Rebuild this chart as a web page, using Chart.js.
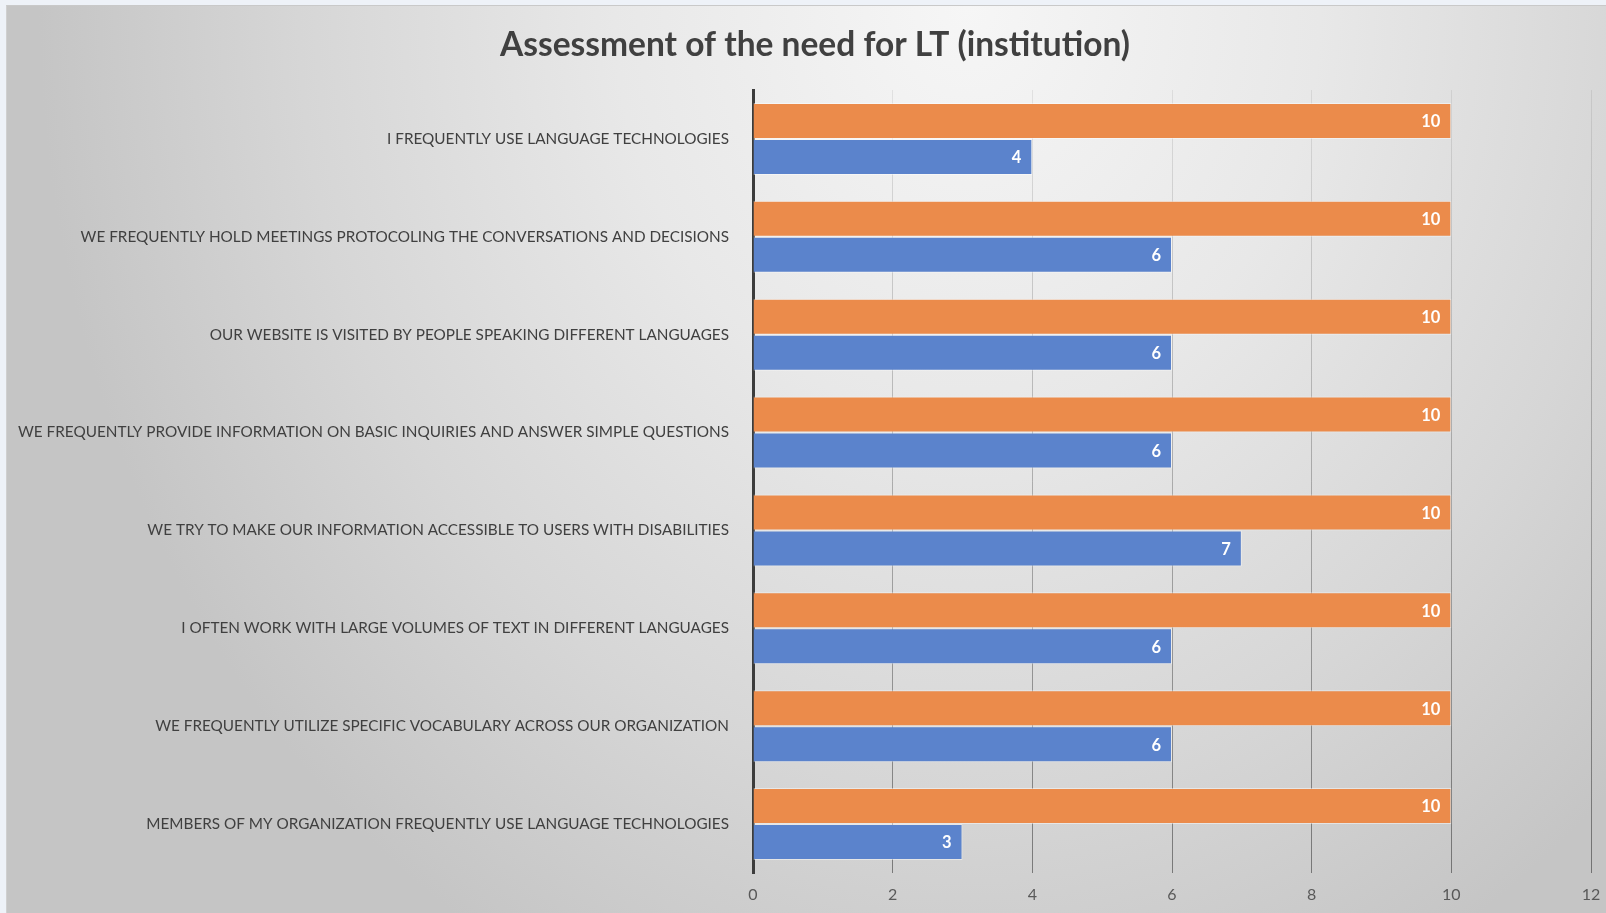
<!DOCTYPE html>
<html>
<head>
<meta charset="utf-8">
<script src="https://cdn.jsdelivr.net/npm/chart.js@4.4.1/dist/chart.umd.min.js"></script>
<style>
  html, body { margin: 0; padding: 0; }
  body { width: 1606px; height: 913px; background: #eef2f8; position: relative; overflow: hidden; }
  #panel {
    position: absolute; left: 6px; top: 5px; width: 1600px; height: 908px;
    border-top: 1px solid #c9c9c9; border-left: 1px solid #d0d0d0;
    background: radial-gradient(ellipse 58% 120% at 60% 0%, #f6f6f6 0%, #e8e8e8 38%, #d6d6d6 72%, #c5c5c5 100%);
  }
  #statsChart { position: absolute; left: 0; top: 0; }
</style>
</head>
<body>
<div id="panel"></div>
<canvas id="statsChart" width="1606" height="913"></canvas>
<script>
const categories = [
    "I FREQUENTLY USE LANGUAGE TECHNOLOGIES",
    "WE FREQUENTLY HOLD MEETINGS PROTOCOLING THE CONVERSATIONS AND DECISIONS",
    "OUR WEBSITE IS VISITED BY PEOPLE SPEAKING DIFFERENT LANGUAGES",
    "WE FREQUENTLY PROVIDE INFORMATION ON BASIC INQUIRIES AND ANSWER SIMPLE QUESTIONS",
    "WE TRY TO MAKE OUR INFORMATION ACCESSIBLE TO USERS WITH DISABILITIES",
    "I OFTEN WORK WITH LARGE VOLUMES OF TEXT IN DIFFERENT LANGUAGES",
    "WE FREQUENTLY UTILIZE SPECIFIC VOCABULARY ACROSS OUR ORGANIZATION",
    "MEMBERS OF MY ORGANIZATION FREQUENTLY USE LANGUAGE TECHNOLOGIES"
];
const orangeValues = [10, 10, 10, 10, 10, 10, 10, 10];
const blueValues = [4, 6, 6, 6, 7, 6, 6, 3];
const xTicks = [0, 2, 4, 6, 8, 10, 12];

const titleText = "Assessment of the need for LT (institution)";

// titre dessiné à la main pour garder le centrage de l'original
const titrePlugin = {
    id: 'titrePlugin',
    afterDraw(chart) {
        const c = chart.ctx;
        c.save();
        c.fillStyle = '#404040';
        c.font = 'bold 33.5px Lato';
        c.textAlign = 'center';
        c.textBaseline = 'middle';
        c.fillText(titleText, 815, 45);
        c.restore();
    }
};

// étiquettes de valeur en blanc, à l'intérieur du bout de la barre
const valueLabels = {
    id: 'valueLabels',
    afterDatasetsDraw(chart) {
        const c = chart.ctx;
        c.save();
        c.fillStyle = '#ffffff';
        c.font = 'bold 16.5px Lato';
        c.textAlign = 'right';
        c.textBaseline = 'middle';
        chart.data.datasets.forEach((ds, i) => {
            chart.getDatasetMeta(i).data.forEach((bar, j) => {
                c.fillText(String(ds.data[j]), bar.x - 11, bar.y + 1);
            });
        });
        c.restore();
    }
};

function gridColor(context) {
    const chart = context.chart;
    const area = chart.chartArea;
    if (!area) return 'rgba(0,0,0,0.25)';
    const g = chart.ctx.createLinearGradient(0, area.top, 0, area.bottom);
    g.addColorStop(0, 'rgba(0,0,0,0.07)');
    g.addColorStop(1, 'rgba(0,0,0,0.42)');
    return g;
}

const ctx = document.getElementById('statsChart').getContext('2d');
const statsChart = new Chart(ctx, {
    type: 'bar',
    data: {
        labels: categories,
        datasets: [
            {
                data: orangeValues,
                backgroundColor: '#eb8b4b',
                borderColor: 'rgba(255,255,255,0.45)',
                borderWidth: 1
            },
            {
                data: blueValues,
                backgroundColor: '#5b83cc',
                borderColor: 'rgba(255,255,255,0.45)',
                borderWidth: 1
            }
        ]
    },
    options: {
        indexAxis: 'y',
        responsive: false,
        maintainAspectRatio: false,
        animation: false,
        devicePixelRatio: 1,
        layout: { padding: { left: 0, right: 15, top: 90, bottom: 9 } },
        categoryPercentage: 0.735,
        barPercentage: 1.0,
        plugins: {
            legend: { display: false },
            tooltip: { enabled: false },
            title: { display: false }
        },
        scales: {
            x: {
                min: 0,
                max: 12,
                afterBuildTicks(scale) {
                    scale.ticks = xTicks.map(v => ({ value: v }));
                },
                afterFit(scale) {
                    scale.height = 31;
                    scale.paddingRight = 0;
                    scale.paddingLeft = 0;
                },
                grid: { color: gridColor, lineWidth: 1, drawTicks: false },
                border: { display: false },
                ticks: {
                    color: '#595959',
                    font: { family: 'Lato', size: 16 },
                    padding: 12
                }
            },
            y: {
                afterFit(scale) { scale.width = 753; },
                grid: { display: false },
                border: { color: '#3c3c3c', width: 3 },
                ticks: {
                    color: '#404040',
                    font: { family: 'Lato', size: 15.3 },
                    padding: 16
                }
            }
        }
    },
    plugins: [valueLabels, titrePlugin]
});
</script>
</body>
</html>
